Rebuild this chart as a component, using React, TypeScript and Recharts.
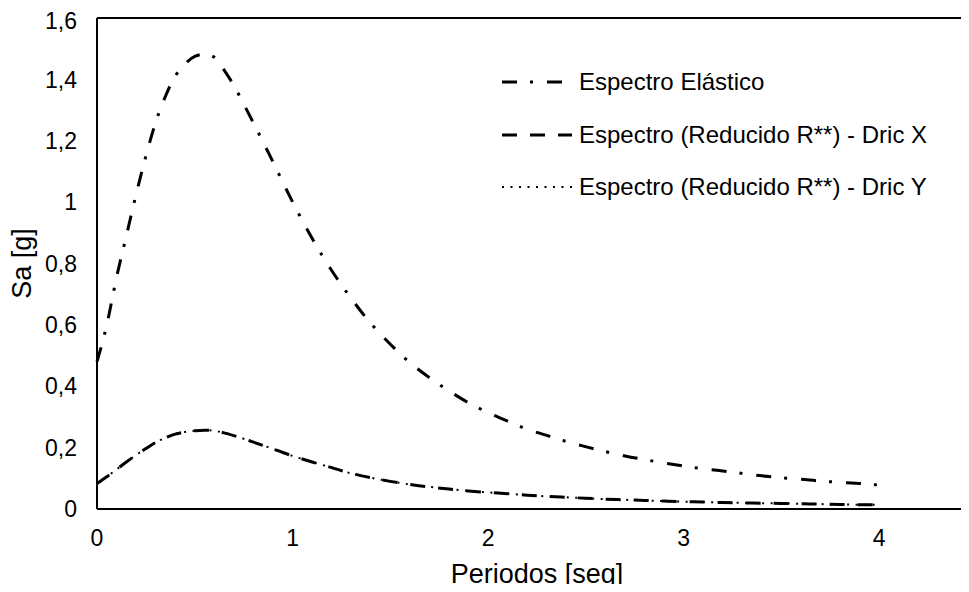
import { LineChart, Line, XAxis, YAxis, ReferenceLine } from 'recharts'

// periodos [seg]
const periods = [
  0, 0.05, 0.1, 0.15, 0.2, 0.25, 0.3, 0.35, 0.4, 0.45, 0.5, 0.55, 0.6, 0.65, 0.7, 0.75, 0.8, 0.85, 0.9, 0.95,
  1, 1.1, 1.2, 1.3, 1.4, 1.5, 1.6, 1.7, 1.8, 1.9, 2, 2.1, 2.2, 2.3, 2.4, 2.5, 2.6, 2.7, 2.8, 2.9,
  3, 3.1, 3.2, 3.3, 3.4, 3.5, 3.6, 3.7, 3.8, 3.9, 4,
]

const elastico = [
  0.48, 0.6, 0.755, 0.89, 1.025, 1.15, 1.26, 1.345, 1.41, 1.45, 1.475, 1.482, 1.472, 1.43, 1.38, 1.32, 1.258, 1.195, 1.131, 1.065,
  1.001, 0.882, 0.777, 0.686, 0.605, 0.537, 0.477, 0.428, 0.385, 0.346, 0.314, 0.286, 0.26, 0.24, 0.22, 0.203, 0.187, 0.173, 0.161, 0.15,
  0.14, 0.131, 0.124, 0.116, 0.108, 0.102, 0.097, 0.091, 0.087, 0.083, 0.078,
]

const reducidoX = [
  0.083, 0.105, 0.129, 0.153, 0.176, 0.197, 0.217, 0.232, 0.244, 0.251, 0.255, 0.257, 0.255, 0.248, 0.239, 0.229, 0.218, 0.207, 0.196, 0.184,
  0.173, 0.153, 0.135, 0.116, 0.102, 0.09, 0.08, 0.072, 0.065, 0.059, 0.054, 0.05, 0.045, 0.041, 0.038, 0.035, 0.032, 0.03, 0.028, 0.026,
  0.024, 0.023, 0.021, 0.02, 0.019, 0.018, 0.017, 0.016, 0.015, 0.014, 0.0135,
]

const reducidoY = [
  0.083, 0.105, 0.129, 0.153, 0.176, 0.197, 0.217, 0.232, 0.244, 0.251, 0.255, 0.257, 0.255, 0.248, 0.239, 0.229, 0.218, 0.207, 0.196, 0.184,
  0.173, 0.153, 0.135, 0.116, 0.102, 0.09, 0.08, 0.072, 0.065, 0.059, 0.054, 0.05, 0.045, 0.041, 0.038, 0.035, 0.032, 0.03, 0.028, 0.026,
  0.024, 0.023, 0.021, 0.02, 0.019, 0.018, 0.017, 0.016, 0.015, 0.014, 0.0135,
]

const xTicks = [0, 1, 2, 3, 4]
const yTicks = [0, 0.2, 0.4, 0.6, 0.8, 1, 1.2, 1.4, 1.6]

const series = [
  { key: 'elastico', name: 'Espectro Elástico', dash: '15 13 3 14', width: 3 },
  { key: 'reducidoX', name: 'Espectro (Reducido R**) - Dric X', dash: '15 13', width: 3 },
  { key: 'reducidoY', name: 'Espectro (Reducido R**) - Dric Y', dash: '2 6.5', width: 2 },
]

const data = periods.map((t, i) => ({
  t,
  elastico: elastico[i],
  reducidoX: reducidoX[i],
  reducidoY: reducidoY[i],
}))

const FONT = '"Liberation Sans", Arial, sans-serif'
const fmt = (v: number) => String(v).replace('.', ',')

function SpectrumLegend() {
  return (
    <div style={{ position: 'absolute', left: 494, top: 48, fontFamily: FONT, fontSize: 24, color: '#000' }}>
      {series.map((s) => (
        <div key={s.key} style={{ display: 'flex', alignItems: 'center', height: 52.5, whiteSpace: 'nowrap' }}>
          <svg width={70} height={10} style={{ marginRight: 7 }}>
            <line x1={0} y1={5} x2={70} y2={5} stroke="#000" strokeWidth={s.width} strokeDasharray={s.dash} />
          </svg>
          <span>{s.name}</span>
        </div>
      ))}
    </div>
  )
}

export default function App() {
  return (
    <div style={{ position: 'relative', width: 961, height: 584, marginBottom: -8, overflow: 'hidden' }}>
      <LineChart width={980} height={584} data={data} margin={{ top: 10, right: 11, bottom: 43, left: 0 }}>
        <XAxis
          type="number"
          dataKey="t"
          domain={[0, 4.5]}
          ticks={xTicks}
          tickLine={false}
          tickSize={0}
          tickMargin={21}
          height={40}
          stroke="#000"
          strokeWidth={2}
          tick={{ fill: '#000', fontSize: 23, fontFamily: FONT }}
          label={{
            content: (props: any) => {
              const vb = props.viewBox
              return (
                <text x={vb.x + vb.width / 2} y={575} textAnchor="middle" fill="#000" fontSize={27} fontFamily={FONT}>
                  Periodos [seg]
                </text>
              )
            },
          }}
        />
        <YAxis
          type="number"
          domain={[0, 1.6]}
          ticks={yTicks}
          width={89}
          tickLine={false}
          tickSize={0}
          tickMargin={20}
          tickFormatter={fmt}
          stroke="#000"
          strokeWidth={2}
          tick={{ fill: '#000', fontSize: 23, fontFamily: FONT }}
          label={{
            content: (props: any) => {
              const vb = props.viewBox
              const cy = vb.y + vb.height / 2
              return (
                <text x={14} y={cy} transform={`rotate(-90 14 ${cy})`} textAnchor="middle" dominantBaseline="central" fill="#000" fontSize={27} fontFamily={FONT}>
                  Sa [g]
                </text>
              )
            },
          }}
        />
        <ReferenceLine y={1.6} stroke="#000" strokeWidth={2} />
        <ReferenceLine x={4.5} stroke="#000" strokeWidth={2} />
        {series.map((s) => (
          <Line
            key={s.key}
            type="monotone"
            dataKey={s.key}
            name={s.name}
            stroke="#000"
            strokeWidth={s.width}
            strokeDasharray={s.dash}
            dot={false}
            activeDot={false}
            isAnimationActive={false}
          />
        ))}
      </LineChart>
      <SpectrumLegend />
    </div>
  )
}
